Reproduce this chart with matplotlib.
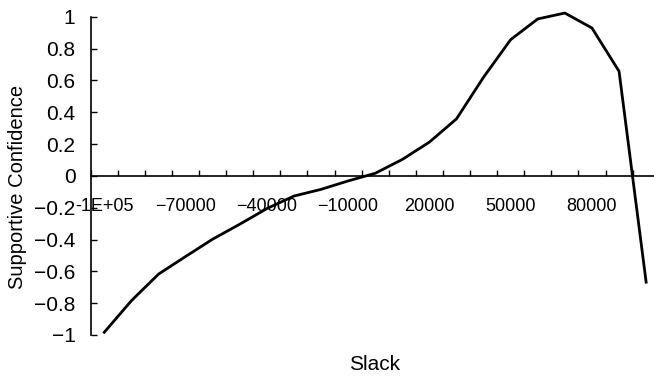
import matplotlib.pyplot as plt

plt.rcParams['font.family'] = ['Liberation Sans', 'DejaVu Sans']

# Slack categories and supportive confidence values
slack = [-100000, -90000, -80000, -70000, -60000, -50000, -40000, -30000,
         -20000, -10000, 0, 10000, 20000, 30000, 40000, 50000, 60000,
         70000, 80000, 90000, 100000]
confidence = [-0.983, -0.785, -0.618, -0.507, -0.398, -0.304, -0.206, -0.127,
              -0.085, -0.032, 0.016, 0.103, 0.212, 0.358, 0.62, 0.856, 0.986,
              1.023, 0.929, 0.657, -0.668]
xtick_labels = ['-1E+05', '\u221270000', '\u221240000', '\u221210000',
                '20000', '50000', '80000']
ytick_values = [-1, -0.8, -0.6, -0.4, -0.2, 0, 0.2, 0.4, 0.6, 0.8, 1]
ytick_labels = ['\u22121', '\u22120.8', '\u22120.6', '\u22120.4', '\u22120.2',
                '0', '0.2', '0.4', '0.6', '0.8', '1']

fig = plt.figure(figsize=(6.54, 3.78), dpi=100)
ax = fig.add_axes([0.1387, 0.1138, 0.870, 0.842])

pos = list(range(len(slack)))
ax.plot(pos, confidence, color='black', linewidth=2.0, clip_on=False)

ax.set_xlim(-0.5, len(slack) - 0.5)
ax.set_ylim(-1, 1)

# category axis: tick marks on category borders, a label every third category
ax.set_xticks(pos[::3], xtick_labels)
ax.set_xticks([p - 0.5 for p in pos] + [pos[-1] + 0.5], minor=True)
ax.tick_params(axis='x', which='major', length=0, pad=16, labelsize=13)
ax.tick_params(axis='x', which='minor', direction='in', length=4, width=1)

ax.set_yticks(ytick_values, ytick_labels)
ax.tick_params(axis='y', direction='in', length=4, width=1, pad=11, labelsize=15)

ax.spines['top'].set_visible(False)
ax.spines['right'].set_visible(False)
ax.spines['bottom'].set_position(('data', 0))
ax.spines['left'].set_linewidth(1.2)
ax.spines['bottom'].set_linewidth(1.2)

fig.text(18 / 654, 1 - 187 / 378, 'Supportive Confidence', rotation=90,
         ha='center', va='center', fontsize=14.5)
fig.text(375 / 654, 1 - 364 / 378, 'Slack', ha='center', va='center',
         fontsize=15)

fig.savefig('out.png', dpi=100)
